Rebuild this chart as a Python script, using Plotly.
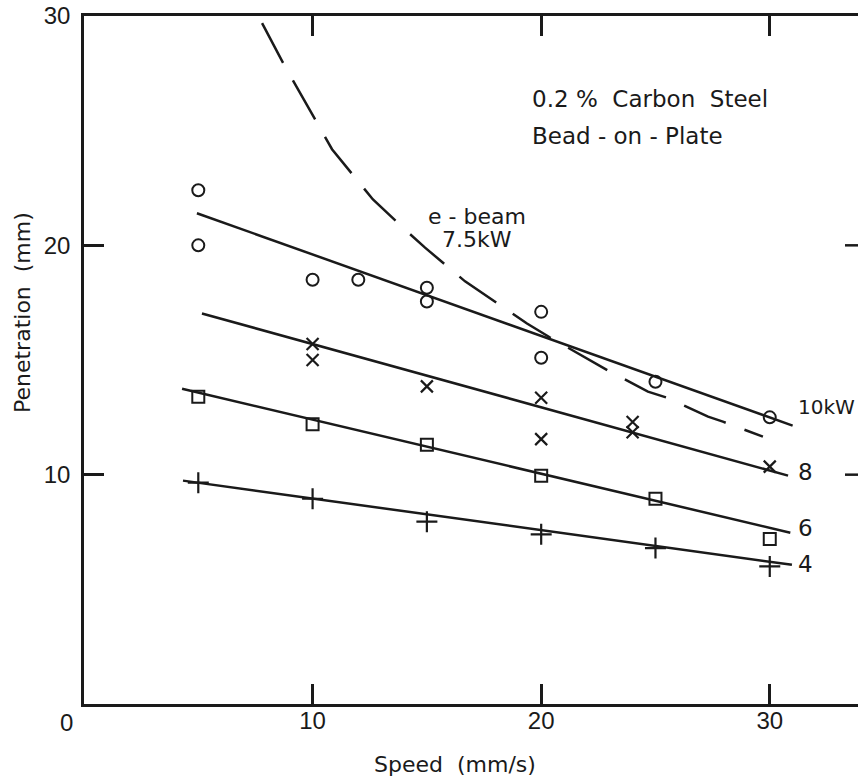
import plotly.graph_objects as go

# ---- data ----
speed_10kw = [5, 5, 10, 12, 15, 15, 20, 20, 25, 30]
pen_10kw = [22.4, 20.0, 18.5, 18.5, 18.15, 17.55, 17.1, 15.1, 14.05, 12.5]

speed_8kw = [10, 10, 15, 20, 20, 24, 24, 30]
pen_8kw = [15.7, 15.0, 13.85, 13.35, 11.55, 12.3, 11.85, 10.35]

speed_6kw = [5, 10, 15, 20, 25, 30]
pen_6kw = [13.4, 12.2, 11.3, 9.95, 8.95, 7.2]

speed_4kw = [5, 10, 15, 20, 25, 30]
pen_4kw = [9.65, 8.95, 7.95, 7.4, 6.8, 6.0]

# fitted straight lines (end points)
fit_10kw_x = [4.94, 31.0]
fit_10kw_y = [21.4, 12.14]
fit_8kw_x = [5.16, 30.8]
fit_8kw_y = [17.03, 9.96]
fit_6kw_x = [4.29, 30.9]
fit_6kw_y = [13.75, 7.47]
fit_4kw_x = [4.33, 30.97]
fit_4kw_y = [9.74, 6.07]

# e-beam 7.5 kW curve
ebeam_x = [7.79, 8.71, 10.85, 12.0, 12.64, 14.17, 14.92, 16.67, 17.63, 19.38,
           20.39, 22.27, 23.0, 24.67, 25.5, 27.3, 27.95, 29.7]
ebeam_y = [29.69, 27.95, 24.19, 22.75, 22.0, 20.57, 19.9, 18.43, 17.77, 16.59,
           15.98, 14.89, 14.5, 13.62, 13.36, 12.53, 12.31, 11.66]

x_ticks = [10, 20, 30]
y_ticks = [10, 20, 30]

power_labels = ["10kW", "8", "6", "4"]
power_label_y = [12.97, 10.13, 7.69, 6.11]
power_label_size = [20, 23, 23, 23]

INK = "#1a1a1a"
FONT = "DejaVu Sans"
TICKFONT = "Liberation Sans"

FIG_W, FIG_H = 858, 783
ML, MT, MB = 84, 16, 79
PW, PH = FIG_W - ML, FIG_H - MT - MB

fig = go.Figure()

# fitted lines
for fx, fy in [(fit_10kw_x, fit_10kw_y), (fit_8kw_x, fit_8kw_y),
               (fit_6kw_x, fit_6kw_y), (fit_4kw_x, fit_4kw_y)]:
    fig.add_trace(go.Scatter(x=fx, y=fy, mode="lines",
                             line=dict(color=INK, width=2.5),
                             showlegend=False, hoverinfo="skip"))

# e-beam dashed curve
fig.add_trace(go.Scatter(x=ebeam_x, y=ebeam_y, mode="lines",
                         line=dict(color=INK, width=2.5, dash="45px,20px"),
                         showlegend=False, hoverinfo="skip"))

# markers
fig.add_trace(go.Scatter(x=speed_10kw, y=pen_10kw, mode="markers", name="10 kW",
                         marker=dict(symbol="circle-open", size=12, color=INK,
                                     line=dict(width=2, color=INK))))
fig.add_trace(go.Scatter(x=speed_8kw, y=pen_8kw, mode="markers", name="8 kW",
                         marker=dict(symbol="x-thin-open", size=12, color=INK,
                                     line=dict(width=2.2, color=INK))))
fig.add_trace(go.Scatter(x=speed_6kw, y=pen_6kw, mode="markers", name="6 kW",
                         marker=dict(symbol="square-open", size=12, color=INK,
                                     line=dict(width=2, color=INK))))
fig.add_trace(go.Scatter(x=speed_4kw, y=pen_4kw, mode="markers", name="4 kW",
                         marker=dict(symbol="cross-thin-open", size=15, color=INK,
                                     line=dict(width=2.2, color=INK))))

annotations = []
for lbl, ly, fs in zip(power_labels, power_label_y, power_label_size):
    annotations.append(dict(x=31.15, y=ly, text=lbl, showarrow=False,
                            xanchor="left", yanchor="middle",
                            font=dict(family=FONT, size=fs, color=INK)))

annotations += [
    dict(x=17.2, y=21.27, text="e - beam", showarrow=False,
         xanchor="center", yanchor="middle",
         font=dict(family=FONT, size=22, color=INK)),
    dict(x=17.2, y=20.26, text="7.5kW", showarrow=False,
         xanchor="center", yanchor="middle",
         font=dict(family=FONT, size=22, color=INK)),
    dict(x=19.5, y=26.4, text="0.2 %  Carbon  Steel", showarrow=False,
         xanchor="left", yanchor="middle",
         font=dict(family=FONT, size=23, color=INK)),
    dict(x=19.5, y=24.75, text="Bead - on - Plate", showarrow=False,
         xanchor="left", yanchor="middle",
         font=dict(family=FONT, size=23, color=INK)),
    # corner zero
    dict(x=0, y=0, text="0", showarrow=False, xshift=-18, yshift=-18,
         xanchor="center", yanchor="middle",
         font=dict(family=TICKFONT, size=24, color=INK)),
    # axis titles
    dict(xref="paper", yref="paper", x=(455 - ML) / PW, y=(704 - 764) / PH,
         text="Speed  (mm/s)", showarrow=False, xanchor="center", yanchor="middle",
         font=dict(family=FONT, size=22, color=INK)),
    dict(xref="paper", yref="paper", x=(22 - ML) / PW, y=(704 - 313) / PH,
         text="Penetration  (mm)", showarrow=False, textangle=-90,
         xanchor="center", yanchor="middle",
         font=dict(family=FONT, size=22, color=INK)),
]

shapes = []
for yv in [10, 20]:
    shapes.append(dict(type="line", xref="x domain", yref="y",
                       x0=1 - 13 / PW, x1=1, y0=yv, y1=yv,
                       line=dict(color=INK, width=2.5)))

fig.update_layout(
    width=FIG_W, height=FIG_H,
    margin=dict(l=ML, r=0, t=MT, b=MB, pad=0),
    paper_bgcolor="white", plot_bgcolor="white",
    showlegend=False,
    annotations=annotations,
    shapes=shapes,
    xaxis=dict(range=[0, 33.86], tickvals=x_ticks, ticks="inside", ticklen=20,
               tickwidth=2.5, tickcolor=INK, showline=True, linecolor=INK,
               linewidth=2.5, mirror="ticks", showgrid=False, zeroline=False,
               ticklabelstandoff=-7,
               tickfont=dict(family=TICKFONT, size=24, color=INK)),
    yaxis=dict(range=[0, 30], tickvals=y_ticks, ticks="inside", ticklen=20,
               tickwidth=2.5, tickcolor=INK, showline=True, linecolor=INK,
               linewidth=2.5, showgrid=False, zeroline=False,
               ticklabelstandoff=6,
               tickfont=dict(family=TICKFONT, size=24, color=INK)),
)

# remove the default 8px page margin so the 858x783 figure fills the window
fig.write_html(
    "out.html",
    config={"displayModeBar": False},
    post_script="document.body.style.margin='0px';"
                "document.documentElement.style.overflow='hidden';",
)
